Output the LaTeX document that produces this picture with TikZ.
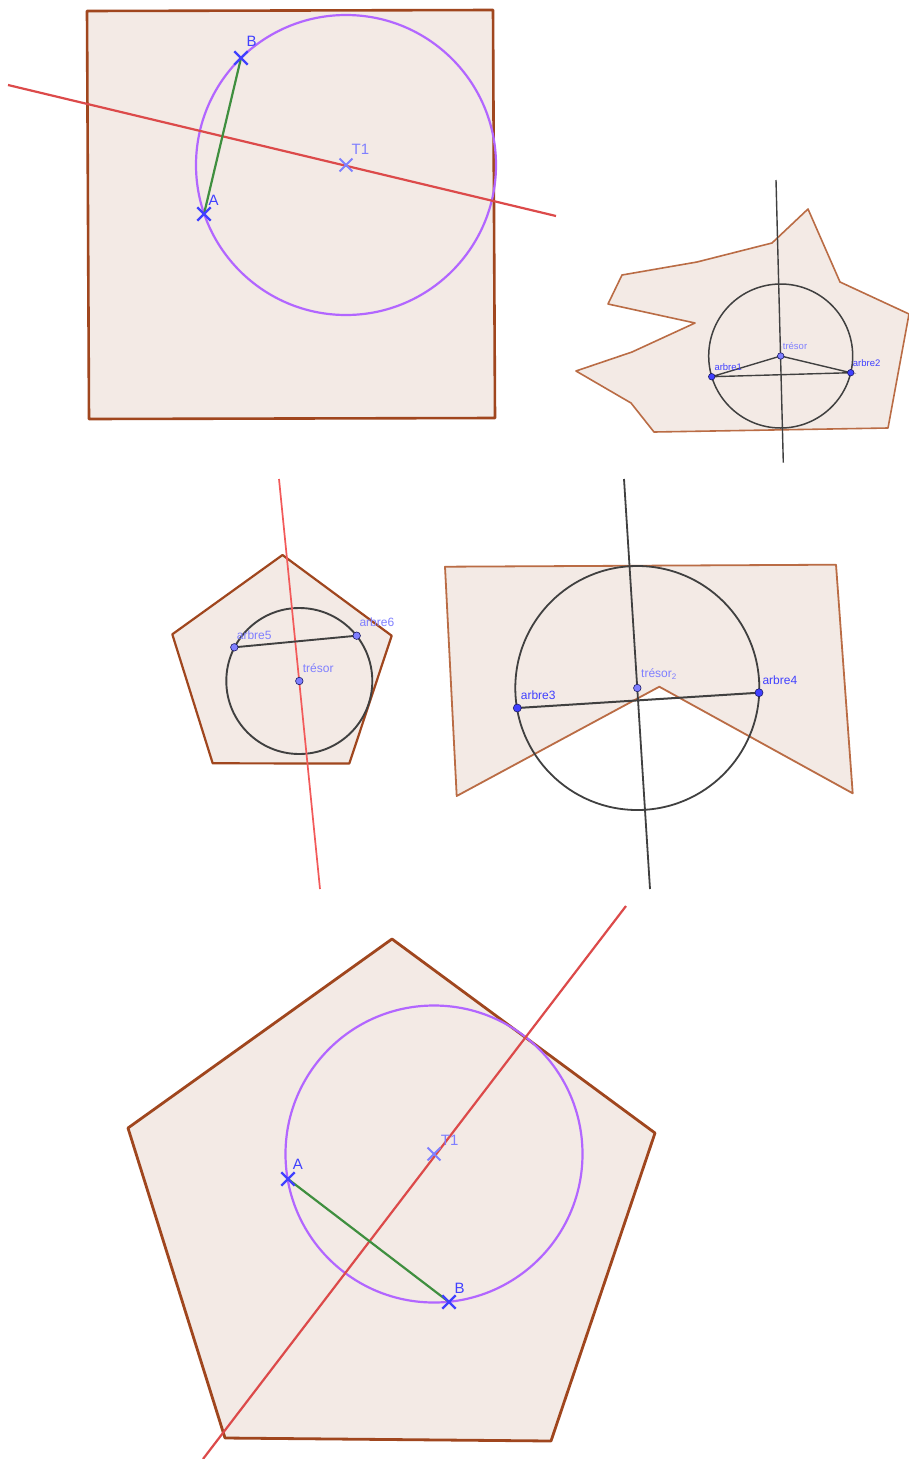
\documentclass[tikz,border=0pt]{standalone}
\usepackage{fontspec}
\setmainfont{Liberation Sans}
\usepackage{xcolor}
\usetikzlibrary{positioning,shapes.misc}

\definecolor{sand}{HTML}{F3EAE5}
\definecolor{brownD}{HTML}{A0461E}
\definecolor{brownL}{HTML}{BA6C45}
\definecolor{violetC}{HTML}{B266FF}
\definecolor{rouge}{HTML}{DC4A4A}
\definecolor{rougeC}{HTML}{F25A5A}
\definecolor{vert}{HTML}{3F8F3F}
\definecolor{gris}{HTML}{404040}
\definecolor{bleu}{HTML}{4040FF}
\definecolor{bleuC}{HTML}{7F7FFF}
\definecolor{bleuF}{HTML}{1A1A66}

\begin{document}
\begin{tikzpicture}[x=1pt, y=-1pt,
  every node/.style={font=\fontsize{12}{14}\selectfont},
  terrain/.style={draw=brownD, fill=sand, line width=2.6pt, line join=round},
  terrainL/.style={draw=brownL, fill=sand, line width=1.6pt, line join=round},
  cercleV/.style={draw=violetC, line width=2.2pt},
  cercleN/.style={draw=gris, line width=1.8pt},
  mediatrice/.style={draw=rouge, line width=2.2pt},
  trait/.style={draw=gris, line width=1.6pt},
  corde/.style={draw=vert, line width=2.2pt},
  croix/.style={cross out, draw=bleu, line width=2.4pt, minimum size=11pt, inner sep=0pt},
  croixC/.style={croix, draw=bleuC, line width=1.9pt},
  arbrept/.style={circle, draw=bleuF, fill=bleu, line width=0.6pt, minimum size=7.5pt, inner sep=0pt},
  tresorpt/.style={arbrept, fill=bleuC},
  lbl/.style={inner sep=0pt, text=bleu},
  lblC/.style={lbl, text=bleuC},
  grand/.style={font=\fontsize{15}{18}\selectfont},
  petit/.style={font=\fontsize{9.5}{11}\selectfont}
]
\path[fill=white, use as bounding box] (0,0) rectangle (908,1459);

% carre
\coordinate (T1) at (346,165);
\coordinate (A1) at (204,214);
\coordinate (B1) at (241,58);
\coordinate (m1a) at (8,85);
\coordinate (m1b) at (556,216);
\draw[terrain] (87,11) -- (493,10) -- (495,418) -- (89,419) -- cycle;
\draw[cercleV] (T1) circle[radius=150];
\draw[mediatrice] (m1a) -- (m1b);
\draw[corde] (A1) -- (B1);
\node[croixC] (xT1) at (T1) {};
\node[croix] (xA1) at (A1) {};
\node[croix] (xB1) at (B1) {};
\node[lblC, grand, above right=10pt and 5.5pt of T1] (lT1) {T1};
\node[lbl, grand, above right=8.5pt and 4.5pt of A1] (lA1) {A};
\node[lbl, grand, above right=11pt and 5.5pt of B1] (lB1) {B};

% polygone haut droite
\coordinate (tr1) at (780.7,356);
\coordinate (a1) at (711.7,376.7);
\coordinate (a2) at (850.7,372.7);
\coordinate (m2a) at (776,180);
\coordinate (m2b) at (783.3,462.7);
\draw[terrainL] (808,209) -- (840,282) -- (909,314) -- (888,428) -- (654,432)
  -- (631,403) -- (576,371) -- (632,352) -- (695,323) -- (608,304) -- (622,275)
  -- (697,262) -- (772,243) -- cycle;
\draw[cercleN, line width=1.5pt] (tr1) circle[radius=72];
\draw[trait, line width=1.4pt] (m2a) -- (m2b);
\draw[trait, line width=1.4pt] (a1) -- (tr1) -- (a2) -- (a1);
\node[tresorpt, minimum size=6.5pt] (dtr1) at (tr1) {};
\node[arbrept, minimum size=6.5pt] (da1) at (a1) {};
\node[arbrept, minimum size=6.5pt] (da2) at (a2) {};
\node[lblC, petit, above right=6.3pt and 2pt of tr1] (ltr1) {trésor};
\node[lbl, petit, above right=5.7pt and 2.6pt of a1] (la1) {arbre1};
\node[lbl, petit, above right=6pt and 2pt of a2] (la2) {arbre2};

% pentagone milieu gauche
\coordinate (tr3) at (299.3,681);
\coordinate (a5) at (234.3,647.3);
\coordinate (a6) at (356.7,635.7);
\coordinate (m3a) at (279,479);
\coordinate (m3b) at (320,889);
\draw[terrain, line width=2.2pt] (282.5,555) -- (391.7,635.7) -- (349.3,763.5)
  -- (212.7,763.3) -- (172.3,634.3) -- cycle;
\draw[cercleN, line width=1.9pt] (tr3) circle[radius=73];
\draw[mediatrice, draw=rougeC, line width=1.7pt] (m3a) -- (m3b);
\draw[trait, line width=1.9pt] (a5) -- (a6);
\node[tresorpt] (dtr3) at (tr3) {};
\node[tresorpt] (da5) at (a5) {};
\node[tresorpt] (da6) at (a6) {};
\node[lblC, above right=7.7pt and 3.4pt of tr3] (ltr3) {trésor};
\node[lblC, above right=7.3pt and 2.4pt of a5] (la5) {arbre5};
\node[lblC, above right=8.4pt and 2.6pt of a6] (la6) {arbre6};

% polygone milieu droite
\coordinate (tr2) at (637.3,688);
\coordinate (a3) at (517.3,708);
\coordinate (a4) at (759,692.7);
\coordinate (m4a) at (624,479);
\coordinate (m4b) at (650,889);
\draw[terrainL, line width=1.8pt] (445,566.7) -- (836,564.7) -- (852.7,793.3) -- (659.3,686.7)
  -- (456.7,796) -- cycle;
\draw[cercleN] (tr2) circle[radius=122];
\draw[trait, line width=1.8pt] (m4a) -- (m4b);
\draw[trait, line width=2pt] (a3) -- (a4);
\node[tresorpt] (dtr2) at (tr2) {};
\node[arbrept, minimum size=8pt] (da3) at (a3) {};
\node[arbrept, minimum size=8pt] (da4) at (a4) {};
\node[lblC, above right=8.7pt and 3.7pt of tr2] (ltr2) {trésor$_{\mathrm{2}}$};
\node[lbl, above right=8pt and 3.4pt of a3] (la3) {arbre3};
\node[lbl, above right=7.7pt and 3.3pt of a4] (la4) {arbre4};

% pentagone bas
\coordinate (T5) at (434,1154);
\coordinate (A5) at (288,1179);
\coordinate (B5) at (449,1302);
\coordinate (m5a) at (626,906);
\coordinate (m5b) at (203,1459);
\draw[terrain, line width=2.8pt] (392,939) -- (655,1133) -- (551,1441) -- (225,1438)
  -- (128,1128) -- cycle;
\draw[cercleV] (T5) circle[radius=148.5];
\draw[mediatrice] (m5a) -- (m5b);
\draw[corde] (A5) -- (B5);
\node[croixC] (xT5) at (T5) {};
\node[croix] (xA5) at (A5) {};
\node[croix] (xB5) at (B5) {};
\node[lblC, grand, above right=8.3pt and 6.7pt of T5] (lT5) {T1};
\node[lbl, grand, above right=9pt and 4.7pt of A5] (lA5) {A};
\node[lbl, grand, above right=8.7pt and 5.3pt of B5] (lB5) {B};
\end{tikzpicture}
\end{document}
